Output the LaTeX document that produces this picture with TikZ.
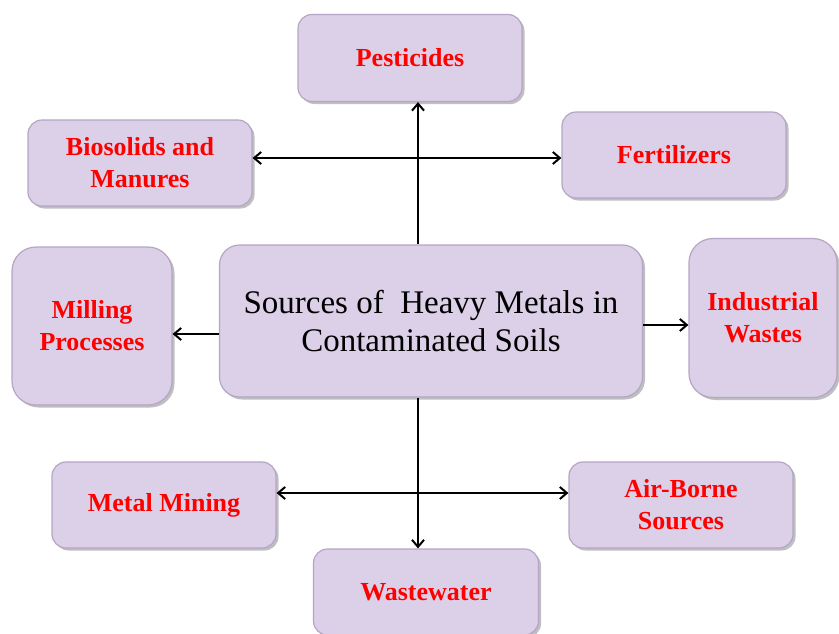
\documentclass[tikz,border=0pt]{standalone}
\usepackage{fontspec}
\setmainfont{Liberation Serif}
\usetikzlibrary{shadows,arrows.meta}
\definecolor{boxfill}{RGB}{220,208,232}
\definecolor{boxline}{RGB}{180,166,196}
\begin{document}
\begin{tikzpicture}[x=1pt,y=-1pt,
  srcbox/.style={draw=boxline, line width=1.2pt, fill=boxfill, rounded corners=14pt,
    drop shadow={shadow xshift=2.5pt, shadow yshift=-2.5pt, fill=black!50},
    inner sep=0pt, align=center, text=red,
    font=\fontsize{26}{32}\selectfont\bfseries},
  arr/.style={line width=2pt, -{Straight Barb[length=7pt,width=12pt,line width=2pt]}},
  darr/.style={line width=2pt, {Straight Barb[length=7pt,width=12pt,line width=2pt]}-{Straight Barb[length=7pt,width=12pt,line width=2pt]}}]
\useasboundingbox (0,0) rectangle (839,633);
\fill[white] (0,0) rectangle (839,633);
\node[srcbox, minimum width=224pt, minimum height=87pt] (pest) at (410,58) {Pesticides};
\node[srcbox, minimum width=224pt, minimum height=86pt] (bio) at (140,163) {Biosolids and\\Manures};
\node[srcbox, minimum width=224pt, minimum height=86pt] (fert) at (674,155) {Fertilizers};
\node[srcbox, minimum width=423pt, minimum height=152pt, rounded corners=20pt, text=black,
  font=\fontsize{33}{38}\selectfont] (central) at (431,321) {Sources of \ Heavy Metals in\\Contaminated Soils};
\node[srcbox, minimum width=160pt, minimum height=158pt, rounded corners=24pt] (mill) at (92,326) {Milling\\Processes};
\node[srcbox, minimum width=148pt, minimum height=159pt, rounded corners=24pt] (ind) at (763,318) {Industrial\\Wastes};
\node[srcbox, minimum width=224pt, minimum height=86pt] (mine) at (164,505) {Metal Mining};
\node[srcbox, minimum width=224pt, minimum height=86pt] (air) at (681,505) {Air-Borne\\Sources};
\node[srcbox, minimum width=225pt, minimum height=86pt] (waste) at (426,592) {Wastewater};
\coordinate (vx) at (418,0);
\coordinate (hy1) at (0,158);
\coordinate (hy2) at (0,493);
\coordinate (my) at (0,334);
\coordinate (iy) at (0,325);
\draw[arr] (central.north -| vx) -- (pest.south -| vx);
\draw[arr] (central.south -| vx) -- (waste.north -| vx);
\draw[darr] (bio.east |- hy1) -- (fert.west |- hy1);
\draw[darr] (mine.east |- hy2) -- (air.west |- hy2);
\draw[arr] (central.west |- my) -- (mill.east |- my);
\draw[arr] (central.east |- iy) -- (ind.west |- iy);
\end{tikzpicture}
\end{document}
